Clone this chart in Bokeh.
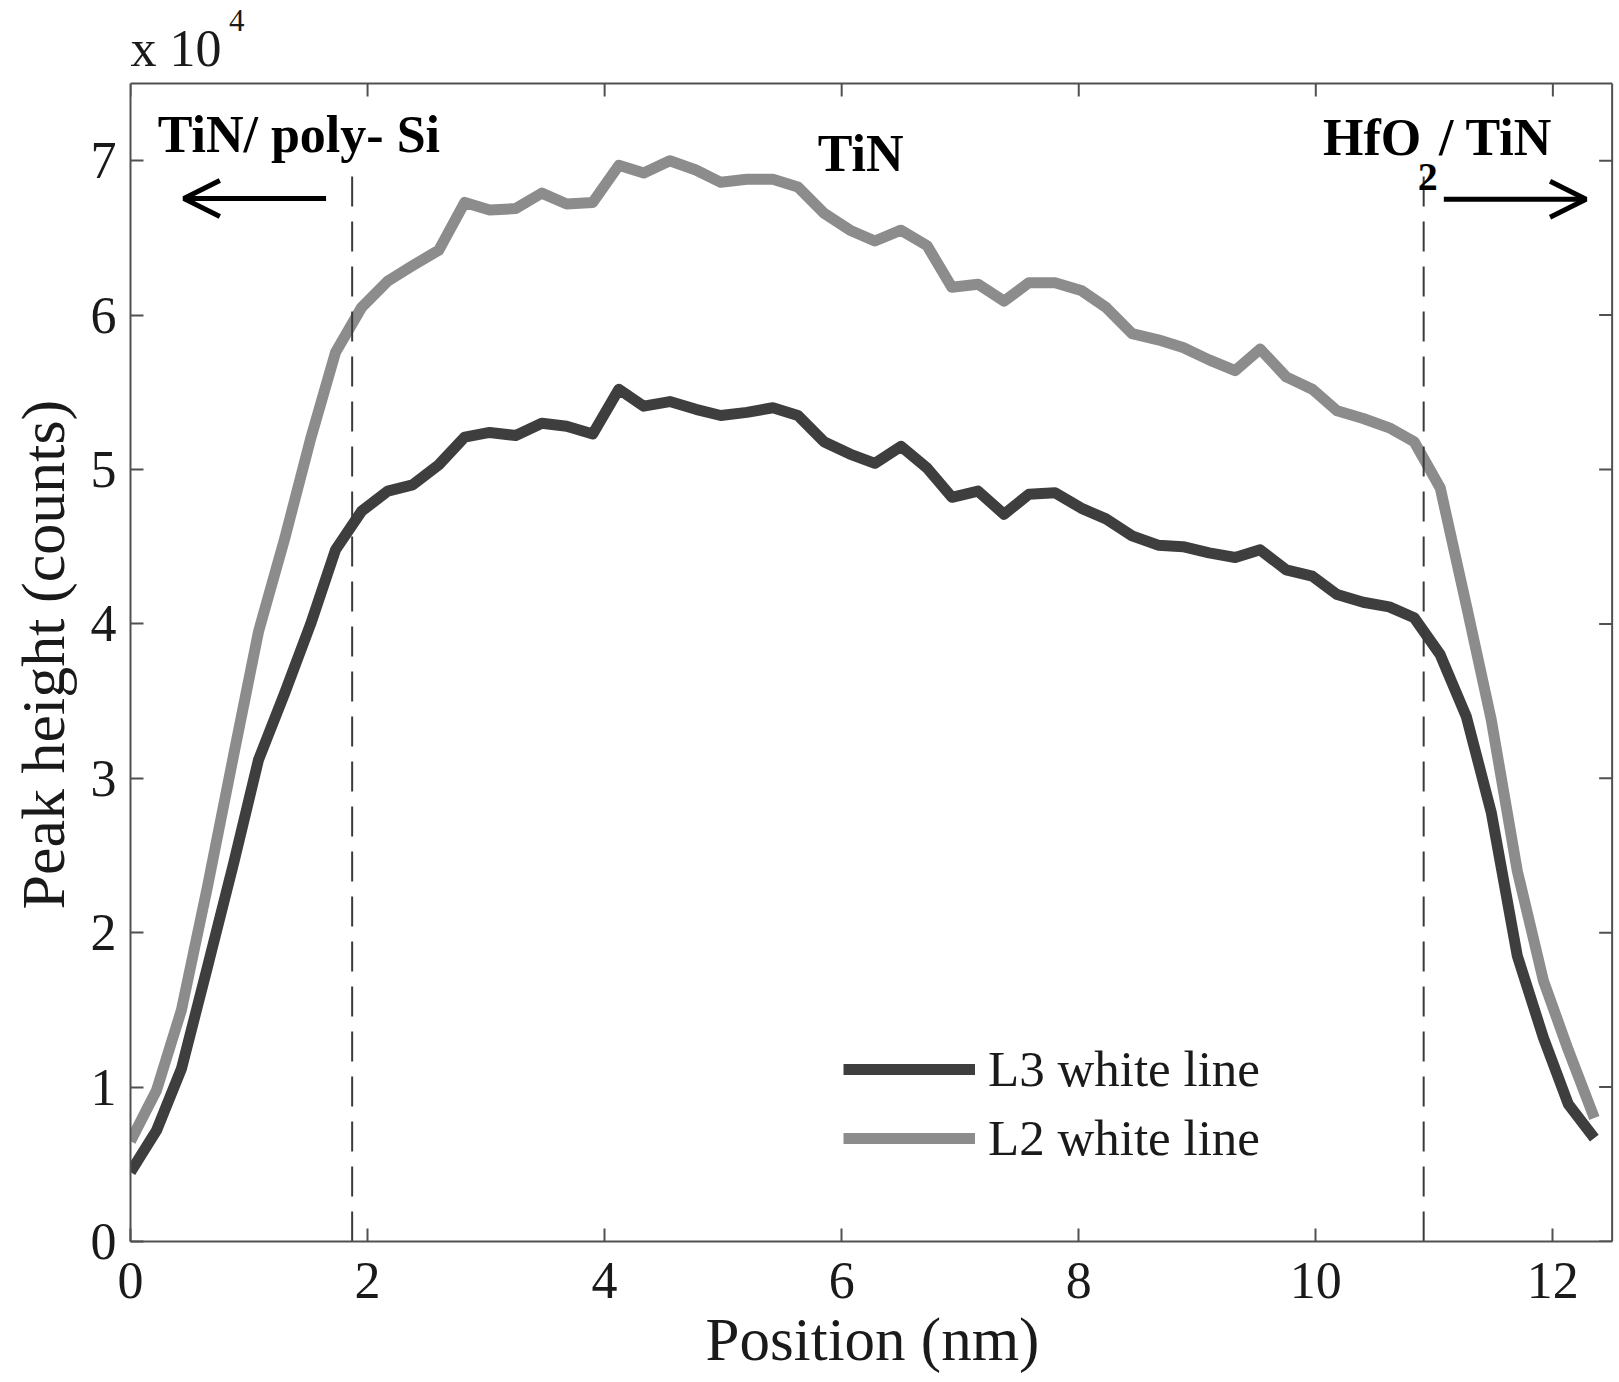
import math
from bokeh.plotting import figure
from bokeh.models import (Range1d, Legend, LegendItem, Label, Arrow, Title,
                          OpenHead, FixedTicker, ColumnDataSource)
from bokeh.embed import file_html
from bokeh.resources import INLINE

# ---------------- data ----------------
position_nm = [0.00, 0.22, 0.43, 0.65, 0.87, 1.08, 1.30, 1.52, 1.73, 1.95,
               2.17, 2.38, 2.60, 2.82, 3.03, 3.25, 3.47, 3.68, 3.90, 4.12,
               4.33, 4.55, 4.77, 4.98, 5.20, 5.42, 5.63, 5.85, 6.07, 6.28,
               6.50, 6.72, 6.93, 7.15, 7.37, 7.58, 7.80, 8.02, 8.23, 8.45,
               8.67, 8.88, 9.10, 9.32, 9.53, 9.75, 9.97, 10.18, 10.40, 10.62,
               10.83, 11.05, 11.27, 11.48, 11.70, 11.92, 12.13, 12.35]

# peak height in units of 1e4 counts
l3_white_line = [0.45, 0.72, 1.12, 1.78, 2.45, 3.12, 3.55, 4.00, 4.48, 4.73,
                 4.86, 4.90, 5.03, 5.21, 5.24, 5.22, 5.30, 5.28, 5.23, 5.52,
                 5.41, 5.44, 5.39, 5.35, 5.37, 5.40, 5.35, 5.18, 5.10, 5.04,
                 5.15, 5.01, 4.82, 4.86, 4.71, 4.84, 4.85, 4.75, 4.68, 4.57,
                 4.51, 4.50, 4.46, 4.43, 4.48, 4.35, 4.31, 4.19, 4.14, 4.11,
                 4.04, 3.80, 3.40, 2.78, 1.85, 1.32, 0.89, 0.67]

l2_white_line = [0.65, 0.98, 1.50, 2.30, 3.15, 3.95, 4.55, 5.20, 5.76, 6.05,
                 6.22, 6.32, 6.42, 6.73, 6.68, 6.69, 6.79, 6.72, 6.73, 6.97,
                 6.92, 7.00, 6.94, 6.86, 6.88, 6.88, 6.83, 6.66, 6.55, 6.48,
                 6.55, 6.45, 6.18, 6.20, 6.09, 6.21, 6.21, 6.16, 6.05, 5.88,
                 5.84, 5.79, 5.71, 5.64, 5.78, 5.60, 5.52, 5.38, 5.33, 5.27,
                 5.18, 4.88, 4.12, 3.38, 2.40, 1.69, 1.24, 0.80]

x_ticks = [0, 2, 4, 6, 8, 10, 12]
y_ticks = [0, 1, 2, 3, 4, 5, 6, 7]
x_max = 12.5          # axes box limits
y_max = 7.5
interface_x = [1.87, 10.91]          # dashed interface markers
interface_y_top = 6.97

FONT = "Liberation Serif"
AXC = "#505050"
TXT = "#1a1a1a"
C_L3 = "#3e3e3e"
C_L2 = "#8c8c8c"

# the view extends a little above / right of the axes box so that the
# "x 10^4" multiplier can be drawn as an ordinary (unclipped) label
p = figure(width=1616, height=1378, output_backend="svg", toolbar_location=None,
           x_range=Range1d(0, 12.52), y_range=Range1d(0, 8.0376),
           min_border_left=130, min_border_right=2, min_border_top=0,
           min_border_bottom=137, background_fill_color="white",
           border_fill_color="white")
p.xgrid.visible = False
p.ygrid.visible = False
p.outline_line_color = None

xa = p.xaxis[0]
ya = p.yaxis[0]
for ax, ticks in ((xa, x_ticks), (ya, y_ticks)):
    ax.ticker = FixedTicker(ticks=ticks)
    ax.major_tick_in = 13
    ax.major_tick_out = 0
    ax.minor_tick_line_color = None
    ax.axis_line_color = AXC
    ax.axis_line_width = 2
    ax.major_tick_line_color = AXC
    ax.major_tick_line_width = 2
    ax.major_label_text_font = FONT
    ax.major_label_text_font_size = "52px"
    ax.major_label_text_color = TXT
xa.bounds = (0, x_max)
ya.bounds = (0, y_max)
xa.major_label_standoff = 21
ya.major_label_standoff = 14
xa.axis_label = "Position (nm)"
xa.axis_label_text_font = FONT
xa.axis_label_text_font_size = "61px"
xa.axis_label_text_font_style = "normal"
xa.axis_label_text_color = TXT
xa.axis_label_standoff = 5

# y label as a side title, placed along the axes box (offset from its bottom)
p.add_layout(Title(text="Peak height (counts)", align="left",
                   vertical_align="top", offset=332, standoff=17,
                   text_font=FONT, text_font_size="62px",
                   text_font_style="normal", text_color=TXT), "left")

# top and right edges of the axes box, with inward ticks
p.segment(x0=[0, x_max], y0=[y_max, 0], x1=[x_max, x_max], y1=[y_max, y_max],
          line_color=AXC, line_width=2)
p.ray(x=x_ticks, y=[y_max] * len(x_ticks), length=13, length_units="screen",
      angle=-math.pi / 2, line_color=AXC, line_width=2)
p.ray(x=[x_max] * len(y_ticks), y=y_ticks, length=13, length_units="screen",
      angle=math.pi, line_color=AXC, line_width=2)

src = ColumnDataSource(dict(x=position_nm, l3=l3_white_line, l2=l2_white_line))
r3 = p.line("x", "l3", source=src, line_color=C_L3, line_width=11,
            line_join="round")
r2 = p.line("x", "l2", source=src, line_color=C_L2, line_width=11,
            line_join="round")

p.segment(x0=interface_x, x1=interface_x, y0=[0, 0],
          y1=[interface_y_top, interface_y_top], line_color="#3a3a3a",
          line_width=2, line_dash="30 15")

legend = Legend(items=[LegendItem(label="L3 white line", renderers=[r3]),
                       LegendItem(label="L2 white line", renderers=[r2])],
                location=(713, 73), glyph_width=132, glyph_height=60,
                label_height=60, spacing=9, padding=0, margin=0,
                label_standoff=13, border_line_color=None,
                background_fill_color=None, background_fill_alpha=0,
                label_text_font=FONT, label_text_font_size="51px",
                label_text_color=TXT)
p.add_layout(legend)

# exponent multiplier above the box
p.add_layout(Label(x=0.0, y=7.545, text="x 10", text_font=FONT,
                   text_font_size="52px", text_color=TXT))
p.add_layout(Label(x=0.83, y=7.84, text="4", text_font=FONT,
                   text_font_size="31px", text_color=TXT))

# region annotations
bold = dict(text_font=FONT, text_font_style="bold", text_color="#000000")
p.add_layout(Label(x=0.23, y=6.985, text="TiN/ poly- Si", text_font_size="52px", **bold))
p.add_layout(Label(x=6.16, y=6.86, text="TiN", text_align="center",
                   text_font_size="52px", **bold))
p.add_layout(Label(x=10.89, y=6.964, text="HfO", text_align="right",
                   text_font_size="52px", **bold))
p.add_layout(Label(x=10.86, y=6.81, text="2", text_font_size="40px", **bold))
p.add_layout(Label(x=11.04, y=6.964, text="/ TiN", text_font_size="52px", **bold))

p.add_layout(Arrow(x_start=1.65, y_start=6.755, x_end=0.45, y_end=6.755,
                   line_width=5, line_color="#000000",
                   end=OpenHead(size=36, line_width=5, line_color="#000000")))
p.add_layout(Arrow(x_start=11.08, y_start=6.75, x_end=12.28, y_end=6.75,
                   line_width=5, line_color="#000000",
                   end=OpenHead(size=36, line_width=5, line_color="#000000")))

open("out.html", "w").write(file_html(p, INLINE))
